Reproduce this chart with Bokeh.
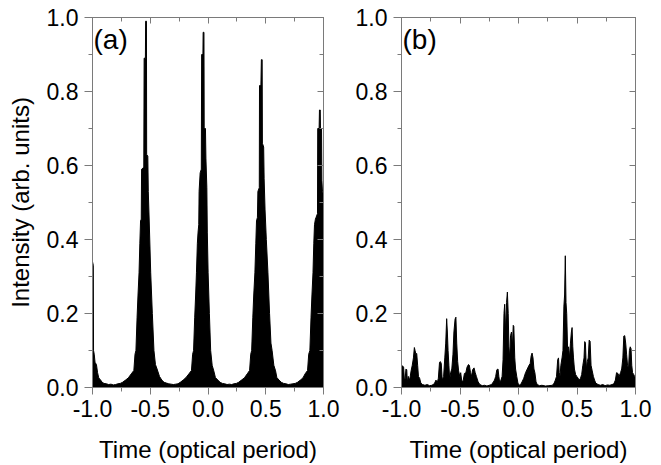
from bokeh.plotting import figure
from bokeh.layouts import row
from bokeh.models import (Range1d, FixedTicker, LinearAxis, Label, NumeralTickFormatter,
                          CustomLabelingPolicy)
from bokeh.embed import file_html
from bokeh.resources import INLINE

# ---- data (envelope of intensity) ----
time_a = [-1.000, -0.993, -0.991, -0.985, -0.978, -0.966, -0.956, -0.946, -0.932, -0.916,
          -0.900, -0.880, -0.860, -0.840, -0.820, -0.800, -0.780, -0.760,
          -0.740, -0.714, -0.690, -0.664, -0.642, -0.632, -0.624, -0.614, -0.606, -0.597,
          -0.590, -0.584, -0.578, -0.575, -0.556, -0.553, -0.542, -0.540, -0.533, -0.531,
          -0.521, -0.517, -0.509, -0.496, -0.482, -0.468, -0.455, -0.441, -0.420, -0.400,
          -0.380, -0.360, -0.340, -0.320, -0.300, -0.280, -0.260,
          -0.240, -0.215, -0.190, -0.165, -0.143, -0.133, -0.125, -0.115, -0.107, -0.100,
          -0.092, -0.086, -0.080, -0.077, -0.068, -0.058, -0.055, -0.044, -0.042, -0.035,
          -0.033, -0.022, -0.018, -0.010, -0.006, 0.001, 0.012, 0.023, 0.036, 0.050,
          0.064, 0.085, 0.105, 0.125, 0.145, 0.165, 0.185, 0.205, 0.225, 0.245,
          0.265, 0.290, 0.315, 0.340, 0.360, 0.370, 0.378, 0.388, 0.396, 0.406,
          0.414, 0.420, 0.428, 0.432, 0.444, 0.446, 0.458, 0.462, 0.469, 0.471,
          0.482, 0.486, 0.494, 0.505, 0.519, 0.533, 0.545, 0.555, 0.570, 0.585,
          0.596, 0.615, 0.635, 0.655, 0.675, 0.695, 0.715, 0.735, 0.755,
          0.775, 0.800, 0.822, 0.841, 0.862, 0.872, 0.882, 0.892, 0.900, 0.909,
          0.916, 0.922, 0.930, 0.936, 0.948, 0.950, 0.962, 0.965, 0.972, 0.974,
          0.983, 0.986, 0.991, 1.000]
intensity_a = [0.340, 0.330, 0.100, 0.090, 0.068, 0.062, 0.040, 0.026, 0.021, 0.014,
               0.011, 0.010, 0.008, 0.009, 0.007, 0.008, 0.010, 0.011,
               0.014, 0.020, 0.026, 0.037, 0.046, 0.090, 0.100, 0.190, 0.250, 0.310,
               0.390, 0.450, 0.455, 0.590, 0.595, 0.890, 0.890, 0.990, 0.990, 0.630,
               0.625, 0.530, 0.450, 0.310, 0.200, 0.100, 0.062, 0.050, 0.030, 0.020,
               0.014, 0.012, 0.010, 0.009, 0.008, 0.009, 0.010,
               0.014, 0.020, 0.027, 0.037, 0.046, 0.090, 0.100, 0.190, 0.250, 0.310,
               0.390, 0.420, 0.440, 0.530, 0.580, 0.590, 0.900, 0.900, 0.960, 0.960,
               0.700, 0.700, 0.620, 0.540, 0.420, 0.310, 0.200, 0.100, 0.060, 0.045,
               0.027, 0.020, 0.014, 0.011, 0.010, 0.008, 0.009, 0.008, 0.010, 0.011,
               0.014, 0.020, 0.026, 0.037, 0.046, 0.090, 0.100, 0.190, 0.250, 0.310,
               0.390, 0.450, 0.460, 0.530, 0.540, 0.816, 0.816, 0.886, 0.886, 0.660,
               0.650, 0.564, 0.480, 0.400, 0.310, 0.200, 0.120, 0.100, 0.060, 0.045,
               0.027, 0.020, 0.014, 0.011, 0.010, 0.008, 0.009, 0.010, 0.011,
               0.014, 0.020, 0.026, 0.037, 0.046, 0.090, 0.100, 0.190, 0.250, 0.310,
               0.390, 0.440, 0.455, 0.460, 0.470, 0.700, 0.700, 0.750, 0.750, 0.700,
               0.700, 0.560, 0.530, 0.520]

time_b = [-1.000, -0.990, -0.982, -0.975, -0.968, -0.962, -0.955, -0.950, -0.942, -0.930,
          -0.918, -0.908, -0.898, -0.890, -0.884, -0.877, -0.870, -0.862, -0.855, -0.845,
          -0.835, -0.820, -0.800, -0.780, -0.760, -0.740, -0.720, -0.705, -0.695, -0.685,
          -0.675, -0.668, -0.660, -0.652, -0.640, -0.630, -0.622, -0.614, -0.608, -0.602,
          -0.595, -0.588, -0.580, -0.570, -0.560, -0.552, -0.542, -0.535, -0.528, -0.520,
          -0.512, -0.502, -0.494, -0.486, -0.475, -0.462, -0.450, -0.440, -0.428, -0.420,
          -0.410, -0.402, -0.392, -0.380, -0.370, -0.360, -0.345, -0.330, -0.310, -0.290,
          -0.270, -0.250, -0.230, -0.215, -0.205, -0.195, -0.185, -0.175, -0.168, -0.160,
          -0.150, -0.140, -0.132, -0.124, -0.118, -0.110, -0.102, -0.095, -0.088, -0.082,
          -0.075, -0.068, -0.060, -0.052, -0.045, -0.040, -0.032, -0.025, -0.015, -0.005,
          0.005, 0.018, 0.030, 0.045, 0.060, 0.075, 0.090, 0.100, 0.108, 0.116,
          0.124, 0.132, 0.140, 0.150, 0.160, 0.180, 0.200, 0.230, 0.260, 0.290,
          0.305, 0.315, 0.325, 0.335, 0.342, 0.348, 0.355, 0.362, 0.372, 0.380,
          0.388, 0.394, 0.400, 0.406, 0.412, 0.420, 0.428, 0.436, 0.444, 0.452,
          0.458, 0.464, 0.470, 0.478, 0.488, 0.498, 0.510, 0.520, 0.530, 0.540,
          0.550, 0.560, 0.566, 0.572, 0.580, 0.588, 0.596, 0.604, 0.612, 0.620,
          0.630, 0.640, 0.650, 0.660, 0.680, 0.700, 0.720, 0.740, 0.760, 0.780,
          0.800, 0.815, 0.828, 0.838, 0.850, 0.860, 0.872, 0.882, 0.892, 0.900,
          0.908, 0.916, 0.924, 0.932, 0.940, 0.948, 0.955, 0.962, 0.968, 0.975,
          0.985, 0.992, 1.000]
intensity_b = [0.060, 0.058, 0.055, 0.020, 0.025, 0.050, 0.048, 0.015, 0.030, 0.020,
               0.045, 0.060, 0.080, 0.108, 0.100, 0.090, 0.092, 0.060, 0.030, 0.025,
               0.012, 0.008, 0.006, 0.008, 0.005, 0.006, 0.010, 0.020, 0.012, 0.025,
               0.068, 0.070, 0.065, 0.020, 0.030, 0.080, 0.120, 0.186, 0.150, 0.100,
               0.060, 0.020, 0.040, 0.050, 0.090, 0.150, 0.185, 0.190, 0.120, 0.070,
               0.045, 0.030, 0.040, 0.020, 0.015, 0.038, 0.040, 0.055, 0.062, 0.060,
               0.040, 0.030, 0.048, 0.053, 0.040, 0.030, 0.015, 0.008, 0.005, 0.006,
               0.004, 0.006, 0.008, 0.015, 0.020, 0.030, 0.048, 0.050, 0.030, 0.012,
               0.020, 0.030, 0.075, 0.200, 0.225, 0.150, 0.230, 0.258, 0.200, 0.110,
               0.080, 0.140, 0.150, 0.110, 0.168, 0.165, 0.080, 0.050, 0.030, 0.012,
               0.006, 0.008, 0.015, 0.025, 0.040, 0.050, 0.060, 0.065, 0.085, 0.093,
               0.080, 0.050, 0.040, 0.015, 0.008, 0.005, 0.006, 0.004, 0.005, 0.006,
               0.012, 0.020, 0.030, 0.075, 0.080, 0.040, 0.030, 0.060, 0.080, 0.100,
               0.220, 0.250, 0.356, 0.230, 0.200, 0.100, 0.110, 0.080, 0.120, 0.150,
               0.162, 0.110, 0.080, 0.050, 0.035, 0.030, 0.025, 0.020, 0.025, 0.035,
               0.060, 0.080, 0.124, 0.120, 0.050, 0.070, 0.080, 0.128, 0.125, 0.060,
               0.045, 0.030, 0.020, 0.012, 0.008, 0.006, 0.008, 0.005, 0.007, 0.006,
               0.008, 0.010, 0.020, 0.040, 0.038, 0.030, 0.040, 0.050, 0.080, 0.139,
               0.140, 0.120, 0.090, 0.060, 0.050, 0.100, 0.110, 0.105, 0.060, 0.040,
               0.035, 0.030, 0.030]

x_major = [-1.0, -0.5, 0.0, 0.5, 1.0]
x_minor = [-0.75, -0.25, 0.25, 0.75]
y_major = [0.0, 0.2, 0.4, 0.6, 0.8, 1.0]
y_minor = [0.1, 0.3, 0.5, 0.7, 0.9]

x_title = "Time (optical period)"
y_title = "Intensity (arb. units)"

FONT = "Liberation Sans"
GRAY = "#7a7a7a"
TICK_SIZE = "23px"
TITLE_SIZE = "24px"


def style_axis(ax, ticks, minor, outward, labels, tick_len=7):
    ax.ticker = FixedTicker(ticks=ticks, minor_ticks=minor)
    ax.axis_line_color = GRAY
    ax.major_tick_line_color = GRAY
    ax.minor_tick_line_color = GRAY
    if outward:
        ax.major_tick_out = tick_len
        ax.major_tick_in = 0
        ax.minor_tick_out = 4
        ax.minor_tick_in = 0
    else:
        ax.major_tick_out = 0
        ax.major_tick_in = 6
        ax.minor_tick_out = 0
        ax.minor_tick_in = 4
    if labels:
        ax.formatter = NumeralTickFormatter(format="0.0")
        ax.major_label_text_font = FONT
        ax.major_label_text_font_size = TICK_SIZE
        ax.major_label_text_color = "black"
        ax.major_label_standoff = 5
    else:
        ax.major_label_policy = CustomLabelingPolicy(code="""
            for (const i of indices) {
                indices.unset(i)
            }
            return indices
        """)
        ax.major_label_standoff = 0


def make_panel(xs, ys, tag, width, left, right, with_ylabel):
    p = figure(width=width, height=465, x_range=Range1d(-1, 1), y_range=Range1d(0, 1),
               output_backend="svg", toolbar_location=None,
               min_border_left=left, min_border_right=right,
               min_border_top=17, min_border_bottom=60)
    p.grid.visible = False
    p.outline_line_color = GRAY
    p.outline_line_width = 1
    p.background_fill_color = "white"
    p.border_fill_color = "white"

    p.varea(x=xs, y1=0, y2=ys, fill_color="black")
    p.line(x=xs, y=ys, line_color="black", line_width=1)

    style_axis(p.xaxis[0], x_major, x_minor, True, True, 7)
    style_axis(p.yaxis[0], y_major, y_minor, True, True, 8)
    p.yaxis[0].major_label_standoff = 6
    p.xaxis[0].axis_label = x_title
    p.xaxis[0].axis_label_text_font = FONT
    p.xaxis[0].axis_label_text_font_size = TITLE_SIZE
    p.xaxis[0].axis_label_text_font_style = "normal"
    p.xaxis[0].axis_label_text_color = "black"
    p.xaxis[0].axis_label_standoff = 16
    if with_ylabel:
        p.yaxis[0].axis_label = y_title
        p.yaxis[0].axis_label_text_font = FONT
        p.yaxis[0].axis_label_text_font_size = TITLE_SIZE
        p.yaxis[0].axis_label_text_font_style = "normal"
        p.yaxis[0].axis_label_text_color = "black"
        p.yaxis[0].axis_label_standoff = 10

    top = LinearAxis()
    style_axis(top, x_major, x_minor, False, False)
    p.add_layout(top, "above")
    rt = LinearAxis()
    style_axis(rt, y_major, y_minor, False, False)
    p.add_layout(rt, "right")

    p.add_layout(Label(x=-1, y=1, text=tag, x_offset=1, y_offset=-6,
                       text_baseline="top", text_align="left",
                       text_font=FONT, text_font_size="28px", text_color="black"))
    return p


pa = make_panel(time_a, intensity_a, "(a)", 341, 92, 4, True)
pb = make_panel(time_b, intensity_b, "(b)", 312, 60, 7, False)

layout = row(pa, pb)
open("out.html", "w").write(file_html(layout, INLINE))
